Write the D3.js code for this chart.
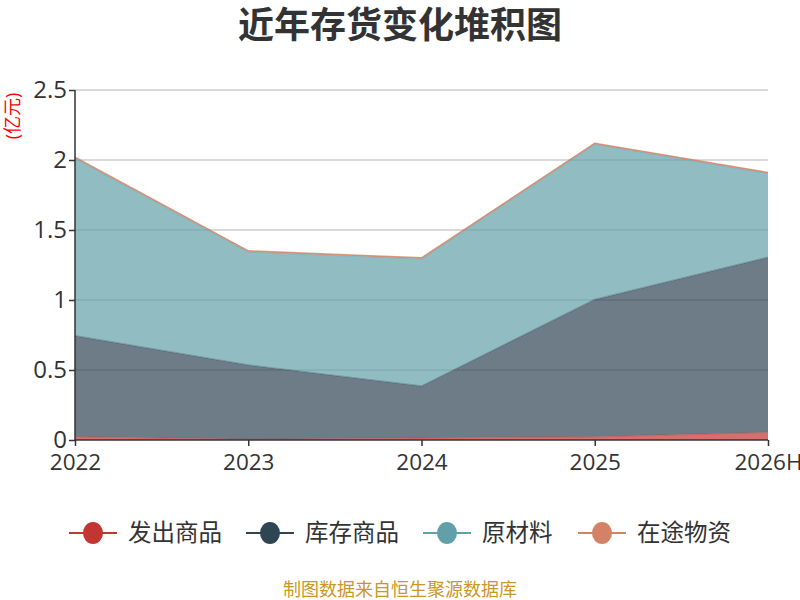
<!DOCTYPE html>
<html>
<head>
<meta charset="utf-8">
<script src="https://cdn.jsdelivr.net/npm/d3@7"></script>
<style>
  body { margin: 0; background: #fff; }
  svg { font-family: "Open Sans", "Noto Sans CJK SC", sans-serif; }
</style>
</head>
<body>
<svg id="canvas" width="800" height="600"></svg>
<script>
// data (亿元)
let years = ['2022', '2023', '2024', '2025', '2026H'];
let seriesNames = ['发出商品', '库存商品', '原材料', '在途物资'];
let shipped = [0.024, 0.005, 0.015, 0.024, 0.055];
let finished = [0.72, 0.53, 0.37, 0.98, 1.25];
let rawMaterial = [1.27, 0.81, 0.91, 1.11, 0.60];
let inTransit = [0.006, 0.006, 0.006, 0.006, 0.006];
let yTicks = [0, 0.5, 1, 1.5, 2, 2.5];
let colors = ['#c23531', '#2f4554', '#61a0a8', '#d48265'];

let canvas = d3.select('#canvas');

let rows = years.map((y, i) => ({
  year: y,
  '发出商品': shipped[i],
  '库存商品': finished[i],
  '原材料': rawMaterial[i],
  '在途物资': inTransit[i]
}));

let stacked = d3.stack().keys(seriesNames)(rows);

let xScale = d3.scalePoint().domain(years).range([75, 768]);
let yScale = d3.scaleLinear().domain([0, 2.5]).range([440, 90]);

// title
canvas.append('text')
  .attr('x', 400).attr('y', 38)
  .attr('text-anchor', 'middle')
  .attr('font-size', 36).attr('font-weight', 'bold')
  .attr('fill', '#333')
  .text('近年存货变化堆积图');

// unit
canvas.append('text')
  .attr('transform', 'translate(19,116) rotate(-90)')
  .attr('text-anchor', 'middle')
  .attr('font-size', 18)
  .attr('fill', 'red')
  .text('(亿元)');

// gridlines
canvas.append('g').selectAll('line')
  .data(yTicks.filter(t => t > 0))
  .enter().append('line')
  .attr('x1', 75).attr('x2', 768)
  .attr('y1', t => yScale(t)).attr('y2', t => yScale(t))
  .attr('stroke', '#ccc').attr('stroke-width', 1.5);

// areas
let area = d3.area()
  .x(d => xScale(d.data.year))
  .y0(d => yScale(d[0]))
  .y1(d => yScale(d[1]));

let line = d3.line()
  .x(d => xScale(d.data.year))
  .y(d => yScale(d[1]));

canvas.append('g').selectAll('path')
  .data(stacked)
  .enter().append('path')
  .attr('d', area)
  .attr('fill', (s, i) => colors[i])
  .attr('fill-opacity', 0.7);

canvas.append('g').selectAll('path')
  .data(stacked)
  .enter().append('path')
  .attr('d', line)
  .attr('fill', 'none')
  .attr('stroke', (s, i) => colors[i])
  .attr('stroke-opacity', (s, i) => i === 3 ? 0.8 : 0.3)
  .attr('stroke-width', 1.5);

// y axis
let yAxis = d3.axisLeft(yScale).tickValues(yTicks).tickFormat(d => d).tickSize(6).tickPadding(2);
let yg = canvas.append('g').attr('transform', 'translate(75,0)').call(yAxis);
yg.select('.domain').attr('stroke', '#333').attr('stroke-width', 1.5).attr('d', 'M0,440V90');
yg.selectAll('.tick line').attr('stroke', '#333').attr('stroke-width', 1.5);
yg.selectAll('.tick text').attr('font-size', 24).attr('fill', '#333').attr('font-family', '"Open Sans", sans-serif');

// x axis
let xAxis = d3.axisBottom(xScale).tickSize(6).tickPadding(5);
let xg = canvas.append('g').attr('transform', 'translate(0,440)').call(xAxis);
xg.select('.domain').attr('stroke', '#333').attr('stroke-width', 1.5).attr('d', 'M75,0H768');
xg.selectAll('.tick line').attr('stroke', '#333').attr('stroke-width', 1.5);
xg.selectAll('.tick text').attr('font-size', 22.5).attr('fill', '#333').attr('dy', '0.85em').attr('font-family', '"Open Sans", sans-serif');

// legend
let legendX = [93, 270, 447, 602];
let legend = canvas.append('g').selectAll('g')
  .data(seriesNames)
  .enter().append('g')
  .attr('transform', (d, i) => `translate(${legendX[i]},533)`);

legend.append('line')
  .attr('x1', -24).attr('x2', 24)
  .attr('stroke', (d, i) => colors[i]).attr('stroke-width', 2);
legend.append('ellipse')
  .attr('rx', 10).attr('ry', 11)
  .attr('fill', (d, i) => colors[i]);
legend.append('text')
  .attr('x', 35).attr('y', 8)
  .attr('font-size', 23.5).attr('fill', '#333')
  .text(d => d);

// source
canvas.append('text')
  .attr('x', 400).attr('y', 596)
  .attr('text-anchor', 'middle')
  .attr('font-size', 18)
  .attr('fill', '#c9962a')
  .text('制图数据来自恒生聚源数据库');
</script>
</body>
</html>
